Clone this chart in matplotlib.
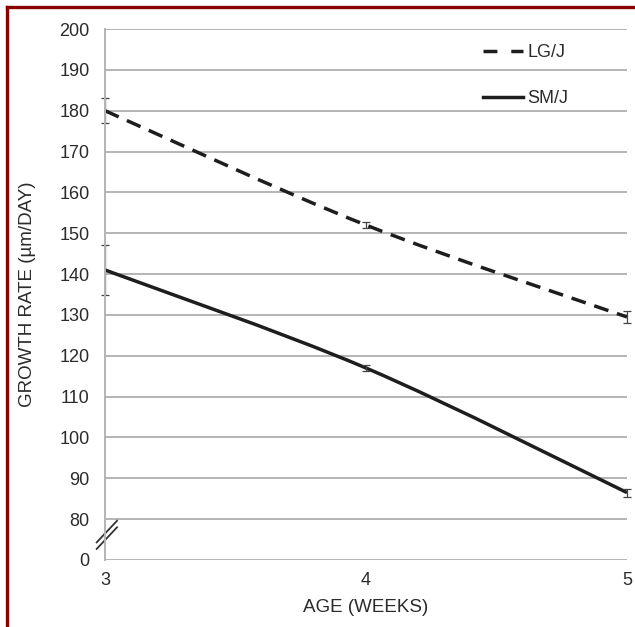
import matplotlib.pyplot as plt
from matplotlib.path import Path
from matplotlib.patches import PathPatch
from matplotlib.lines import Line2D
import numpy as np

plt.rcParams['font.family'] = ['Liberation Sans', 'DejaVu Sans']

age = [3, 4, 5]
lgj = [180, 152, 129.5]
lgj_err = [3, 0.8, 1.5]
smj = [141, 117, 86.5]
smj_err = [6, 0.8, 1.0]

yticks = [0, 80, 90, 100, 110, 120, 130, 140, 150, 160, 170, 180, 190, 200]
# broken axis: 0 sits one grid step below 80
ypos = [70] + yticks[1:]

ink = '#1e1e1e'
grid_c = '#b4b4b4'
txt_c = '#2b2b2b'


def smooth_path(xs, ys):
    # excel style smoothed line: cubic bezier through the points
    p = np.column_stack([xs, ys]).astype(float)
    n = len(p)
    verts = [p[0]]
    codes = [Path.MOVETO]
    for i in range(n - 1):
        p0 = p[i - 1] if i > 0 else p[i]
        p3 = p[i + 2] if i + 2 < n else p[i + 1]
        c1 = p[i] + (p[i + 1] - p0) / 6
        c2 = p[i + 1] - (p3 - p[i]) / 6
        verts += [c1, c2, p[i + 1]]
        codes += [Path.CURVE4] * 3
    return Path(verts, codes)


fig = plt.figure(figsize=(6.35, 6.27), dpi=100)
ax = fig.add_axes([0.1654, 0.1069, 0.822, 0.8468])

ax.set_xlim(3, 5)
ax.set_ylim(70, 200)
ax.set_yticks(ypos)
ax.set_yticklabels([str(v) for v in yticks])
ax.set_xticks(age)
ax.grid(axis='y', color=grid_c, lw=1.4)
ax.set_axisbelow(True)
for s in ['top', 'right', 'bottom']:
    ax.spines[s].set_visible(False)
ax.spines['left'].set_color(grid_c)
ax.spines['left'].set_linewidth(1.4)
ax.tick_params(length=0, labelsize=13, colors=txt_c)
ax.tick_params(axis='y', pad=11)
ax.tick_params(axis='x', pad=9)

ax.add_patch(PathPatch(smooth_path(age, lgj), fill=False, color=ink, lw=2.5,
                       linestyle=(0, (4.3, 2.6)), clip_on=False))
ax.add_patch(PathPatch(smooth_path(age, smj), fill=False, color=ink, lw=2.5,
                       clip_on=False))
ax.errorbar(age, lgj, yerr=lgj_err, fmt='none', ecolor='#444444', elinewidth=0.9,
            capsize=3, capthick=0.9, clip_on=False)
ax.errorbar(age, smj, yerr=smj_err, fmt='none', ecolor='#444444', elinewidth=0.9,
            capsize=3, capthick=0.9, clip_on=False)

# axis break marks
for dy in [0, -1.6]:
    ax.plot([2.968, 3.046], [74.3 + dy, 79.6 + dy], color='#333333', lw=1.3,
            clip_on=False)

handles = [Line2D([], [], color=ink, lw=2.5, linestyle=(0, (4, 4))),
           Line2D([], [], color=ink, lw=2.5)]
leg = ax.legend(handles, ['LG/J', 'SM/J'], loc='upper left',
                bbox_to_anchor=(467 / 635, 1 - 28 / 627), bbox_transform=fig.transFigure,
                frameon=False, fontsize=13, handlelength=2.2, handletextpad=0.25,
                labelspacing=1.6)
for t in leg.get_texts():
    t.set_color(txt_c)

ax.set_xlabel('AGE (WEEKS)', fontsize=13.5, color=txt_c, labelpad=7)
ax.set_ylabel('GROWTH RATE (µm/DAY)', fontsize=13.5, color=txt_c, labelpad=17)

# dark red frame, top and left
fig.add_artist(Line2D([7 / 635, 7 / 635], [0, 1 - 7 / 627], color='#8b0000', lw=2.4))
fig.add_artist(Line2D([7 / 635, 1], [1 - 7 / 627, 1 - 7 / 627], color='#8b0000', lw=2.4))

fig.savefig('out.png', dpi=100)
